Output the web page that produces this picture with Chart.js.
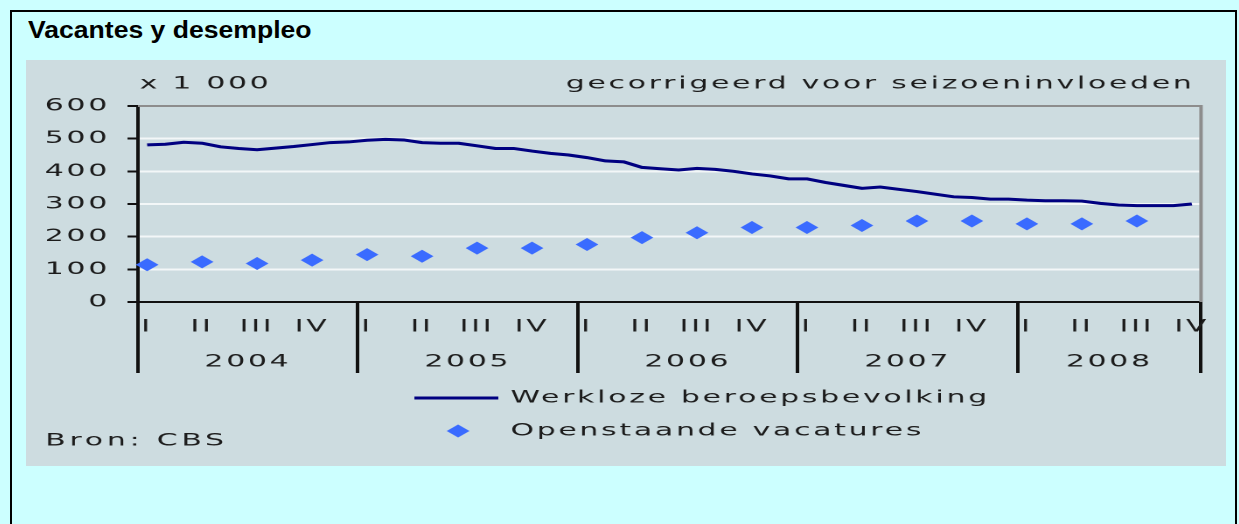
<!DOCTYPE html>
<html>
<head>
<meta charset="utf-8">
<script src="https://cdn.jsdelivr.net/npm/chart.js@4.4.0/dist/chart.umd.min.js"></script>
<style>
  body { margin: 0; background: #ccffff; width: 1239px; height: 524px; overflow: hidden; position: relative; }
  #frame { position: absolute; left: 10px; top: 10px; width: 1223px; height: 600px; border: 2px solid #000; }
  #title { position: absolute; left: 28px; top: 17px; line-height: 26px; font: bold 23px "Liberation Sans", Arial, sans-serif; color: #000; transform: scaleX(1.155); transform-origin: 0 0; }
  #panel { position: absolute; left: 26px; top: 60px; width: 1200px; height: 406px; background: #cddce0; overflow: hidden; }
  /* the original graphic is stretched sideways, so draw narrow and widen it */
  #stretch { width: 686px; height: 406px; transform: scaleX(1.7493); transform-origin: 0 0; }
</style>
</head>
<body>
<div id="frame"></div>
<div id="title">Vacantes y desempleo</div>
<div id="panel">
  <div id="stretch"><canvas id="chart" width="686" height="406"></canvas></div>
</div>
<script>
// data (x 1 000), monthly from Jan 2004 to Oct 2008
const years = ['2004', '2005', '2006', '2007', '2008']
const quarters = ['I', 'II', 'III', 'IV']
const monthsPerYear = [12, 12, 12, 12, 10]
const yearCenters = [6, 18, 30, 42, 53]

const werkloos = [
  481, 483, 489, 486, 475, 470, 466, 471, 476, 482, 488, 490,
  495, 498, 496, 488, 486, 486, 478, 470, 470, 462, 455, 450,
  442, 432, 429, 412, 408, 404, 409, 406, 400, 392, 386, 377,
  377, 366, 357, 348, 352, 345, 338, 330, 322, 320, 315, 315,
  312, 310, 310, 309, 302, 297, 295, 295, 295, 300
]
// quarterly, first month of each quarter
const vacatures = [
  114, 123, 118, 128,
  145, 140, 165, 165,
  176, 197, 212, 228,
  228, 234, 248, 248,
  239, 239, 248
]

const seriesNames = ['Werkloze beroepsbevolking', 'Openstaande vacatures']
const unitText = 'x 1 000'
const noteText = 'gecorrigeerd voor seizoeninvloeden'
const sourceText = 'Bron: CBS'

const FONT = '"DejaVu Sans", Verdana, sans-serif'
const TEXT = '#1c1c1c'
const SPACING = '1.6px'

let labels = []
years.forEach((y, yi) => {
    for (let m = 0; m < monthsPerYear[yi]; m++) {
        labels.push(y + '-' + (m + 1))
    }
})

let vacMonthly = labels.map(() => null)
vacatures.forEach((v, i) => {
    vacMonthly[i * 3] = v
})

function diamond(ctx, x, y, r) {
    ctx.beginPath()
    ctx.moveTo(x, y - r)
    ctx.lineTo(x + r, y)
    ctx.lineTo(x, y + r)
    ctx.lineTo(x - r, y)
    ctx.closePath()
    ctx.fill()
}

const extras = {
    id: 'extras',
    beforeUpdate(chart) {
        // wide, spaced lettering like the original
        chart.ctx.letterSpacing = SPACING
    },
    beforeDatasetsDraw(chart) {
        let ctx = chart.ctx
        let a = chart.chartArea
        ctx.save()
        ctx.strokeStyle = '#8d8d8d'
        ctx.lineWidth = 2
        ctx.beginPath()
        ctx.moveTo(a.left, a.top)
        ctx.lineTo(a.right, a.top)
        ctx.lineTo(a.right, a.bottom)
        ctx.stroke()
        ctx.restore()
    },
    afterDraw(chart) {
        let ctx = chart.ctx
        ctx.save()
        ctx.letterSpacing = SPACING
        ctx.font = '17px ' + FONT
        ctx.fillStyle = TEXT
        ctx.textBaseline = 'middle'
        ctx.textAlign = 'left'
        ctx.fillText(unitText, 65, 24)
        ctx.letterSpacing = '2.2px'
        ctx.fillText(sourceText, 11, 381)
        ctx.letterSpacing = SPACING
        ctx.textAlign = 'right'
        ctx.fillText(noteText, 668, 24)

        // legend, stacked
        ctx.textAlign = 'left'
        chart.data.datasets.forEach((ds, i) => {
            let y = 338 + i * 33
            if (ds.showLine === false) {
                ctx.fillStyle = ds.backgroundColor
                diamond(ctx, 247, y, 6.5)
            } else {
                ctx.strokeStyle = ds.borderColor
                ctx.lineWidth = ds.borderWidth
                ctx.beginPath()
                ctx.moveTo(222, y)
                ctx.lineTo(270, y)
                ctx.stroke()
            }
            ctx.fillStyle = TEXT
            ctx.fillText(ds.label, 277, y)
        })
        ctx.restore()
    }
}

let ctx = document.getElementById('chart').getContext('2d')
let chart = new Chart(ctx, {
    type: 'line',
    data: {
        labels: labels,
        datasets: [{
            label: seriesNames[0],
            data: werkloos,
            borderColor: '#000080',
            borderWidth: 3,
            pointRadius: 0,
            tension: 0,
            fill: false
        }, {
            label: seriesNames[1],
            data: vacMonthly,
            showLine: false,
            pointStyle: 'rectRot',
            pointRadius: 6.5,
            pointBorderWidth: 0,
            backgroundColor: '#3a6bff',
            borderColor: '#3a6bff'
        }]
    },
    options: {
        responsive: false,
        devicePixelRatio: 2,
        animation: false,
        layout: {
            padding: { top: 46, left: 0, right: 14.3, bottom: 0 }
        },
        plugins: {
            legend: { display: false },
            tooltip: { enabled: false }
        },
        scales: {
            x: {
                type: 'category',
                offset: true,
                weight: 0,
                afterFit: s => { s.height = 42 },
                border: { display: true, color: '#111', width: 2 },
                grid: {
                    offset: true,
                    drawOnChartArea: false,
                    tickLength: 71,
                    lineWidth: 2,
                    color: c => (c.index === undefined || c.index % 12 === 0) ? '#111' : 'rgba(0,0,0,0)'
                },
                ticks: {
                    autoSkip: false,
                    maxRotation: 0,
                    padding: -56,
                    color: TEXT,
                    font: { family: FONT, size: 17 },
                    callback: (v, i) => {
                        let m = i % 12
                        return m % 3 === 0 ? quarters[m / 3] : ''
                    }
                }
            },
            years: {
                type: 'linear',
                position: 'bottom',
                weight: 1,
                min: 0,
                max: labels.length,
                afterFit: s => { s.height = 122 },
                afterBuildTicks: s => {
                    s.ticks = yearCenters.map(v => ({ value: v }))
                },
                border: { display: false },
                grid: { display: false, drawTicks: false },
                ticks: {
                    autoSkip: false,
                    maxRotation: 0,
                    padding: 8,
                    color: TEXT,
                    font: { family: FONT, size: 17 },
                    callback: (v, i) => years[i]
                }
            },
            y: {
                min: 0,
                max: 600,
                afterFit: s => { s.width = 64 },
                border: { display: true, color: '#111', width: 2 },
                grid: {
                    color: '#f3f7f8',
                    lineWidth: 2,
                    tickColor: '#111',
                    tickLength: 6
                },
                ticks: {
                    stepSize: 100,
                    padding: 10,
                    color: TEXT,
                    font: { family: FONT, size: 17 }
                }
            }
        }
    },
    plugins: [extras]
})
</script>
</body>
</html>
